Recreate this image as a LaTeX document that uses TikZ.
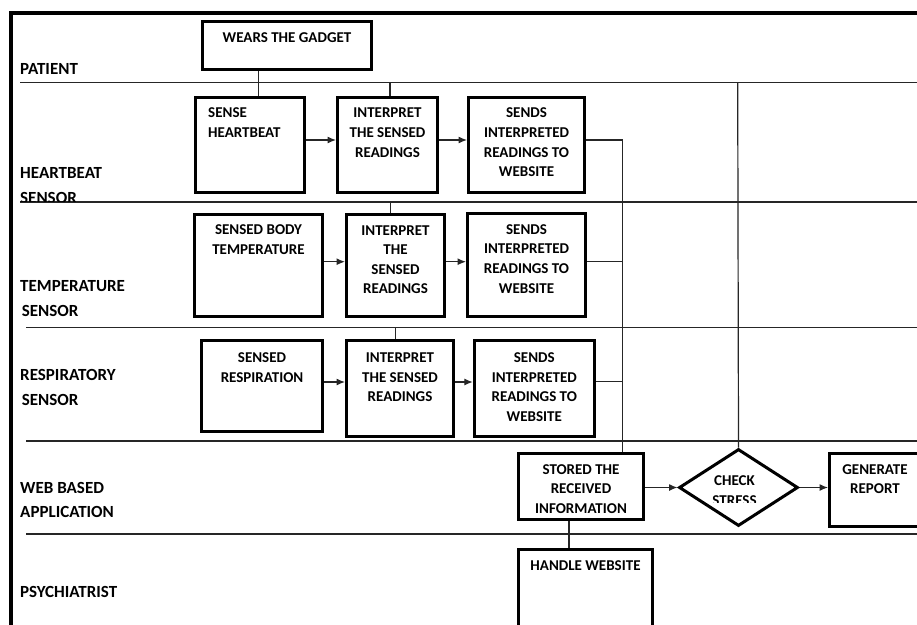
\documentclass[tikz,border=0pt]{standalone}
\usepackage{fontspec}
\setmainfont{Carlito}
\usetikzlibrary{arrows.meta,shapes.geometric}
\begin{document}
\begin{tikzpicture}[x=1pt,y=-1pt,
  frame/.style={line width=3.8pt},
  lane/.style={line width=1.2pt, draw=black!85},
  conn/.style={line width=1.2pt, draw=black!85},
  arr/.style={conn,-{Latex[length=8.5pt,width=7pt]}},
  box/.style={draw, line width=3pt, inner sep=0pt, fill=white},
  boxtxt/.style={anchor=north, align=center, inner sep=0pt, font=\fontsize{15}{19.6}\selectfont\bfseries},
  lanetxt/.style={anchor=west, inner sep=0pt, font=\fontsize{17}{24.5}\selectfont\bfseries},
]
\useasboundingbox (0,0) rectangle (917,624);
\fill[white] (0,0) rectangle (917,624);

% outer frame
\draw[frame] (11,630) -- (11,12.8) -- (925,12.8);

% lane separators
\draw[lane] (20,82.7) -- (917,82.7);
\draw[lane] (20,202) -- (917,202);
\draw[lane] (26,327.7) -- (917,327.7);
\draw[lane] (26,441) -- (917,441);
\draw[lane] (26,534) -- (917,534);

% lane labels
\node[lanetxt] (lpat) at (20,69) {PATIENT};
\node[lanetxt] (lhb1) at (20,172.5) {HEARTBEAT};
\begin{scope}
  \clip (15,185) rectangle (120,201.4);
  \node[lanetxt] (lhb2) at (20,198) {SENSOR};
\end{scope}
\node[lanetxt] (ltp1) at (20,286) {TEMPERATURE};
\node[lanetxt] (ltp2) at (21.7,310.5) {SENSOR};
\node[lanetxt] (lrs1) at (20,375) {RESPIRATORY};
\node[lanetxt] (lrs2) at (21.7,399.5) {SENSOR};
\node[lanetxt] (lwb1) at (20,487.5) {WEB BASED};
\node[lanetxt] (lwb2) at (20,511.7) {APPLICATION};
\node[lanetxt] (lps) at (20,592) {PSYCHIATRIST};

% boxes
\node[box, minimum width=169, minimum height=48] (wear) at (287,45.5) {};
\node[box, minimum width=109, minimum height=95.6] (hb1) at (250,145) {};
\node[box, minimum width=100, minimum height=95.6] (hb2) at (387.5,145) {};
\node[box, minimum width=116, minimum height=95.6] (hb3) at (526.5,145) {};
\node[box, minimum width=128, minimum height=102.6] (t1) at (258.5,265.5) {};
\node[box, minimum width=98, minimum height=102] (t2) at (395.5,265.4) {};
\node[box, minimum width=118, minimum height=103] (t3) at (526.5,265) {};
\node[box, minimum width=121, minimum height=91] (r1) at (262,386) {};
\node[box, minimum width=107, minimum height=96] (r2) at (400,388.5) {};
\node[box, minimum width=120, minimum height=96] (r3) at (534.3,388.5) {};
\node[box, minimum width=125, minimum height=66] (stored) at (581,486.5) {};
\node[box, diamond, minimum width=119, minimum height=77] (chk) at (738.5,487.5) {};
\node[box, minimum width=91, minimum height=73] (gen) at (875,490) {};
\node[box, minimum width=134, minimum height=89] (hand) at (585.5,594) {};

% box texts
\node[boxtxt] (weart) at ([yshift=-12.2pt]wear.north) {WEARS THE GADGET};
\node[boxtxt, anchor=north west, align=left] (hb1t) at ([xshift=14pt,yshift=-12.2pt]hb1.north west) {SENSE\\HEARTBEAT};
\node[boxtxt] (hb2t) at ([yshift=-12.2pt]hb2.north) {INTERPRET\\THE SENSED\\READINGS};
\node[boxtxt] (hb3t) at ([yshift=-12.2pt]hb3.north) {SENDS\\INTERPRETED\\READINGS TO\\WEBSITE};
\node[boxtxt] (t1t) at ([yshift=-12.2pt]t1.north) {SENSED BODY\\TEMPERATURE};
\node[boxtxt] (t2t) at ([yshift=-12.2pt]t2.north) {INTERPRET\\THE\\SENSED\\READINGS};
\node[boxtxt] (t3t) at ([yshift=-12.2pt]t3.north) {SENDS\\INTERPRETED\\READINGS TO\\WEBSITE};
\node[boxtxt] (r1t) at ([yshift=-13.5pt]r1.north) {SENSED\\RESPIRATION};
\node[boxtxt] (r2t) at ([yshift=-13.5pt]r2.north) {INTERPRET\\THE SENSED\\READINGS};
\node[boxtxt] (r3t) at ([yshift=-13.5pt]r3.north) {SENDS\\INTERPRETED\\READINGS TO\\WEBSITE};
\node[boxtxt] (storedt) at ([yshift=-12pt]stored.north) {STORED THE\\RECEIVED\\INFORMATION};
\begin{scope}
  \clip (690,465) rectangle (790,502);
  \node[boxtxt] (chkt) at (734.5,475.9) {CHECK\\STRESS};
\end{scope}
\node[boxtxt] (gent) at ([yshift=-12.2pt]gen.north) {GENERATE\\REPORT};
\node[boxtxt] (handt) at ([yshift=-12.2pt]hand.north) {HANDLE WEBSITE};

% free ends on lane lines
\coordinate (tk1) at (390,82.7);
\coordinate (tk2) at (390.5,202);
\coordinate (tk3) at (395.5,327.7);
\coordinate (vtop) at (737.7,82.7);
\coordinate (bus) at (622.7,140);

% connectors
\draw[conn] (wear.south -| 258.3,0) -- (hb1.north -| 258.3,0);
\draw[conn] (tk1) -- (hb2.north -| tk1);
\draw[conn] (tk2) -- (t2.north -| tk2);
\draw[conn] (tk3) -- (r2.north -| tk3);

\draw[arr] (hb1.east |- 0,140) -- (hb2.west |- 0,140);
\draw[arr] (hb2.east |- 0,140) -- (hb3.west |- 0,140);
\draw[arr] (t1.east |- 0,261.7) -- (t2.west |- 0,261.7);
\draw[arr] (t2.east |- 0,261.7) -- (t3.west |- 0,261.7);
\draw[arr] (r1.east |- 0,382) -- (r2.west |- 0,382);
\draw[arr] (r2.east |- 0,382) -- (r3.west |- 0,382);

\draw[conn] (hb3.east |- bus) -- (bus) -- (stored.north -| bus);
\draw[conn] (t3.east |- 0,261.7) -- (bus |- 0,261.7);
\draw[conn] (r3.east |- 0,381.7) -- (bus |- 0,381.7);

\draw[conn] (vtop) -- (chk.north);
\draw[arr] (stored.east |- chk.west) -- (chk.west);
\draw[arr] (chk.east) -- (gen.west |- chk.east);
\draw[conn] (stored.south -| 569,0) -- (hand.north -| 569,0);
\end{tikzpicture}
\end{document}
